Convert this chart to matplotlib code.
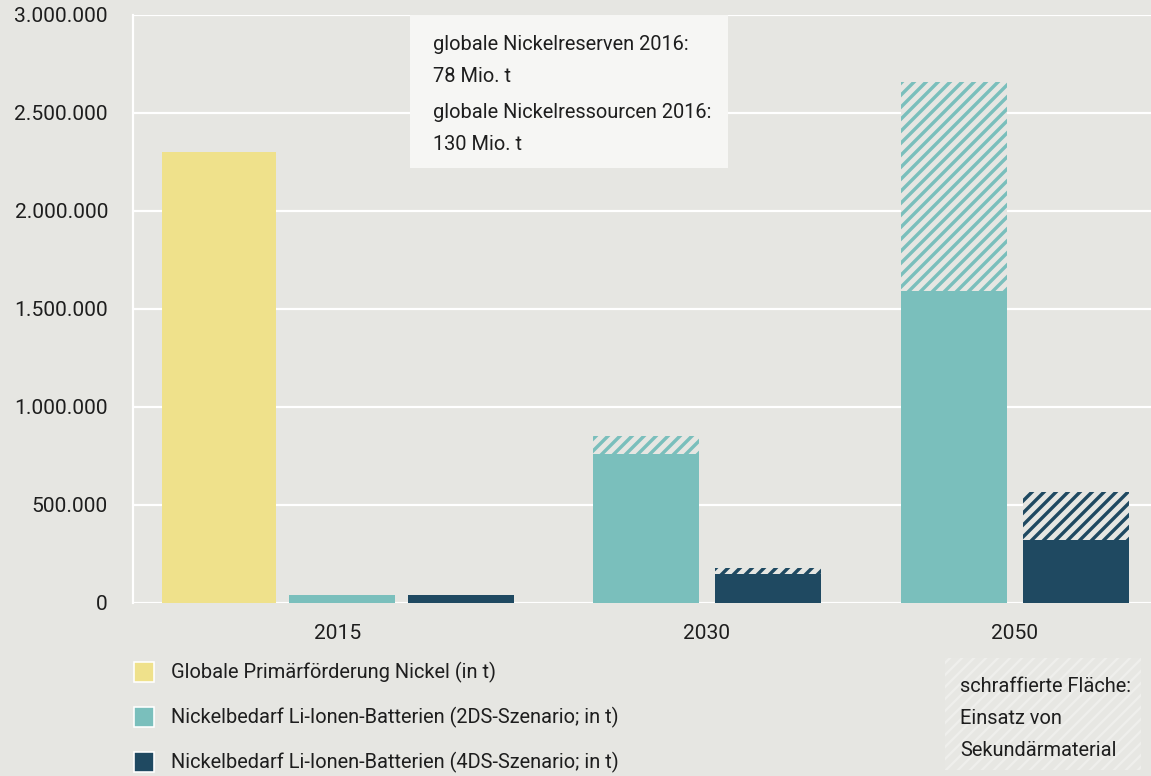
import matplotlib
matplotlib.use("Agg")
import matplotlib.pyplot as plt
from matplotlib.patches import Rectangle
from matplotlib.ticker import FuncFormatter, FixedLocator

# ---------------- data ----------------
years = ["2015", "2030", "2050"]
primary_nickel = [2300000, None, None]                 # Globale Primärförderung Nickel
demand_2ds = [40000, 760000, 1590000]                  # solid part, 2DS
demand_2ds_total = [40000, 850000, 2660000]            # incl. secondary material (hatched)
demand_4ds = [40000, 150000, 320000]                   # solid part, 4DS
demand_4ds_total = [40000, 180000, 565000]             # incl. secondary material (hatched)
yticks = [0, 500000, 1000000, 1500000, 2000000, 2500000, 3000000]
legend_labels = [
    "Globale Primärförderung Nickel (in t)",
    "Nickelbedarf Li-Ionen-Batterien (2DS-Szenario; in t)",
    "Nickelbedarf Li-Ionen-Batterien (4DS-Szenario; in t)",
]
info_lines = ["globale Nickelreserven 2016:", "78 Mio. t",
              "globale Nickelressourcen 2016:", "130 Mio. t"]
hatch_note = ["schraffierte Fläche:", "Einsatz von", "Sekundärmaterial"]

# ---------------- style ----------------
W, H, DPI = 1151, 776, 144
BG = "#E6E6E2"
YELLOW = "#EFE18B"
TEAL = "#7ABFBC"
NAVY = "#1F4961"
TXT = "#1E1E1E"
FONT = ["Roboto", "DejaVu Sans"]
FS_TICK = 10.5
FS = 10.0

plt.rcParams["font.family"] = FONT
plt.rcParams["hatch.linewidth"] = 1.7

fig = plt.figure(figsize=(W / DPI, H / DPI), dpi=DPI, facecolor=BG)

def fx(px):
    return px / W

def fy(py):
    return 1 - py / H

def set_hlw(patch, lw):
    if hasattr(patch, "set_hatch_linewidth"):
        patch.set_hatch_linewidth(lw)

ax_l, ax_r, ax_t, ax_b = 133, 1151, 15, 603
ax = fig.add_axes([fx(ax_l), fy(ax_b), fx(ax_r - ax_l), (ax_b - ax_t) / H])
ax.set_facecolor(BG)
ax.set_xlim(ax_l, ax_r)
ax.set_ylim(0, 3000000)

# grid
for t in yticks:
    ax.axhline(t, color="white", lw=1.1, zorder=1)
for s in ["top", "right", "bottom"]:
    ax.spines[s].set_visible(False)
ax.spines["left"].set_color("white")
ax.spines["left"].set_linewidth(1.1)
ax.spines["left"].set_zorder(1)

ax.yaxis.set_major_locator(FixedLocator(yticks))
ax.yaxis.set_major_formatter(FuncFormatter(lambda v, p: f"{int(v):,}".replace(",", ".")))
ax.tick_params(axis="y", length=0, pad=12.5, labelsize=FS_TICK, labelcolor=TXT)

# layout: category centres (pixel units on x), bar widths
centers = [338, 707, 1015]
ax.set_xticks(centers)
ax.set_xticklabels(years)
ax.tick_params(axis="x", length=0, pad=10.5, labelsize=FS_TICK, labelcolor=TXT)

w_big, w_small = 114, 106
for i, c in enumerate(centers):
    if primary_nickel[i] is not None:
        xs = [c - 119, c + 4, c + 123]
        ax.bar(xs[0], primary_nickel[i], width=w_big, color=YELLOW, zorder=2)
        x2, x4 = xs[1], xs[2]
    else:
        x2, x4 = c - 61, c + 61
    for x, solid, total, col in [(x2, demand_2ds[i], demand_2ds_total[i], TEAL),
                                 (x4, demand_4ds[i], demand_4ds_total[i], NAVY)]:
        ax.bar(x, solid, width=w_small, color=col, zorder=2)
        if total > solid:
            bars = ax.bar(x, total - solid, bottom=solid, width=w_small, facecolor=BG,
                          edgecolor=col, hatch="////", linewidth=0, zorder=2)
            for b in bars:
                set_hlw(b, 1.7)

# info box
fig.patches.append(Rectangle((fx(410), fy(168)), fx(728 - 410), (168 - 15) / H,
                             transform=fig.transFigure, facecolor="#F6F6F4",
                             edgecolor="none", zorder=3))
for line, yy in zip(info_lines, [44, 76, 112, 144]):
    fig.text(fx(433), fy(yy), line, fontsize=FS, color=TXT, va="center",
             ha="left", zorder=4)

# legend
for lab, col, yy in zip(legend_labels, [YELLOW, TEAL, NAVY], [672, 717, 762]):
    fig.patches.append(Rectangle((fx(134), fy(yy + 10)), fx(20), 20 / H,
                                 transform=fig.transFigure, facecolor=col,
                                 edgecolor="white", linewidth=0.8))
    fig.text(fx(171), fy(yy), lab, fontsize=FS, color=TXT, va="center", ha="left")

# hatch note box
note = Rectangle((fx(945), fy(770)), fx(1141 - 945), (770 - 658) / H,
                 transform=fig.transFigure, facecolor="#E7E7E3",
                 edgecolor="#EFEFEC", hatch="////", linewidth=0)
set_hlw(note, 1.2)
fig.patches.append(note)
for line, yy in zip(hatch_note, [686, 718, 750]):
    fig.text(fx(960), fy(yy), line, fontsize=FS, color=TXT, va="center", ha="left")

fig.savefig("out.png", dpi=DPI, facecolor=BG)
